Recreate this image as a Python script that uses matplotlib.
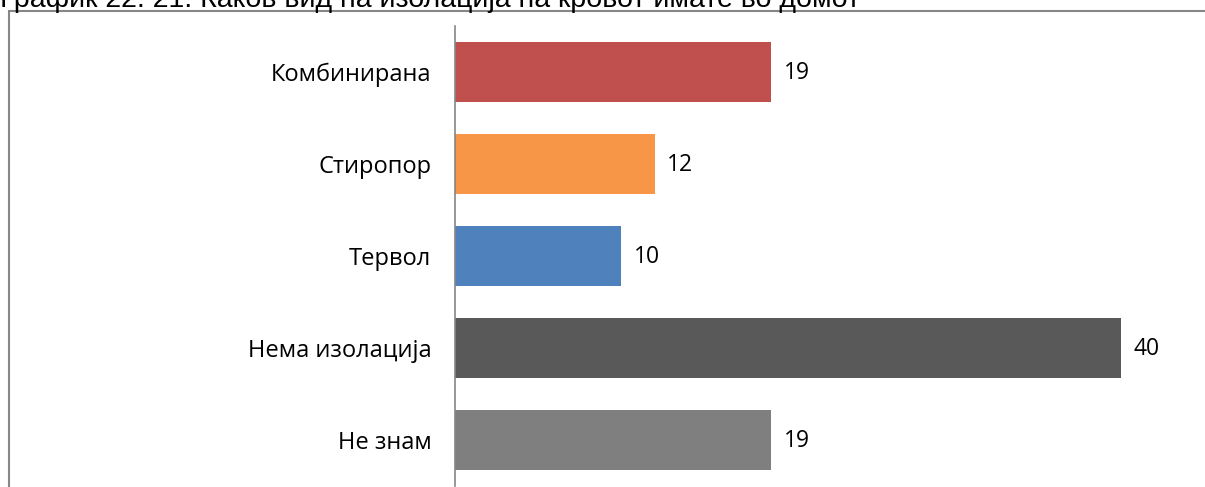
import matplotlib.pyplot as plt
from matplotlib.patches import Rectangle

categories = ["Комбинирана", "Стиропор", "Тервол", "Нема изолација", "Не знам"]
values = [19, 12, 10, 40, 19]
colors = ["#C0504D", "#F79646", "#4F81BD", "#595959", "#7F7F7F"]
title = "График 22. 21. Каков вид на изолација на кровот имате во домот"

W, H = 1205, 487
fig = plt.figure(figsize=(W / 100, H / 100), dpi=100)

# outer chart frame (partly outside the picture)
fig.patches.append(Rectangle((9 / W, -0.1), 1.1, 1 - 11 / H + 0.1,
                             transform=fig.transFigure, fill=False,
                             edgecolor="#878787", lw=1.5, clip_on=False))

fig.text(0, 1 - 7 / H, title, ha="left", va="baseline",
         fontsize=20.5, family="Liberation Sans")

ax = fig.add_axes([455 / W, 1 / H, 749 / W, 460 / H])
y = range(len(categories))
ax.barh(y, values, height=0.652, color=colors)
ax.set_xlim(0, 45)
ax.set_ylim(len(categories) - 0.5, -0.5)

for i, v in enumerate(values):
    ax.annotate(str(v), (v, i), xytext=(9, -1), textcoords="offset points",
                va="center", ha="left", fontsize=16.5, family="Open Sans")

ax.set_yticks(list(y))
ax.set_yticklabels(categories, fontsize=17, family="Open Sans")
ax.tick_params(axis="y", length=0, pad=17)
ax.set_xticks([])
for s in ["top", "right", "bottom"]:
    ax.spines[s].set_visible(False)
ax.spines["left"].set_color("#868686")
ax.spines["left"].set_linewidth(1.2)

fig.savefig("out.png", dpi=100)
